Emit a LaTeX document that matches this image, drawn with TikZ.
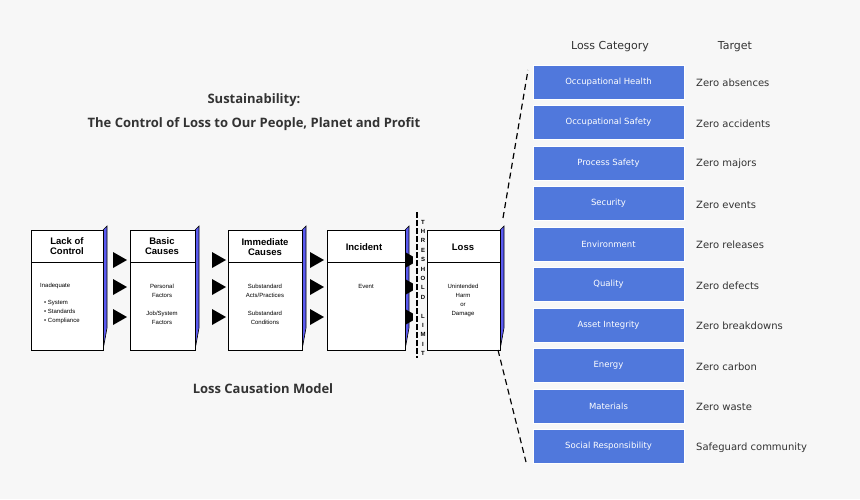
\documentclass[tikz,border=0pt]{standalone}
\usepackage{fontspec}
\setmainfont{DejaVu Sans}
\newfontfamily\arialfont{Liberation Sans}
\newfontfamily\titlefont{Open Sans}
\usetikzlibrary{calc}
\definecolor{catblue}{HTML}{5078DC}
\definecolor{sideblue}{HTML}{5A5AF0}
\definecolor{bggrey}{HTML}{F7F7F7}
\definecolor{txtgrey}{HTML}{333333}
\tikzset{
  cat/.style={fill=catblue, draw=white, line width=0.8pt, minimum width=151pt, minimum height=34pt,
    text=white, font=\fontsize{8.5}{10}\selectfont, inner sep=0pt},
  target/.style={anchor=west, text=txtgrey, font=\fontsize{10}{12}\selectfont, inner sep=0pt},
  head/.style={font=\arialfont\bfseries\fontsize{9.5}{10.5}\selectfont, align=center, inner sep=0pt},
  body/.style={font=\arialfont\fontsize{6}{9}\selectfont, align=center, inner sep=0pt},
  push/.style={fill=black},
}
\newcommand\causebox[3]{% name, left, right
  \fill[sideblue] (#3,230) -- (#3+4,226) -- (#3+4,328) -- (#3,350) -- cycle;
  \draw[black, line width=0.6pt] (#3,230) -- (#3+4,226) -- (#3+4,328) -- (#3,350);
  \draw[fill=white, line width=0.6pt] (#2,230) rectangle (#3,350);
  \draw[line width=0.6pt] (#2,262) -- (#3,262);
  \coordinate (#1) at ({(#2+#3)/2},230);
}
\begin{document}
\begin{tikzpicture}[x=1pt, y=-1pt]
  \fill[bggrey] (0,0) rectangle (860,499);
  \useasboundingbox (0,0) rectangle (860,499);

  % titles
  \node[font=\titlefont\bfseries\fontsize{13}{15}\selectfont, text=txtgrey] (title1) at (254,100) {Sustainability:};
  \node[font=\titlefont\bfseries\fontsize{13}{15}\selectfont, text=txtgrey] (title2) at (254,124) {The Control of Loss to Our People, Planet and Profit};
  \node[font=\titlefont\bfseries\fontsize{13}{15}\selectfont, text=txtgrey] (model) at (263,389) {Loss Causation Model};

  % causation boxes
  \causebox{lack}{31}{103}
  \causebox{basic}{130}{195}
  \causebox{immed}{228}{302}
  \causebox{incid}{327}{405}
  \causebox{loss}{427}{500}

  \node[head] (lackh) at (67,246) {Lack of\\Control};
  \node[head] (basich) at (162,246) {Basic\\Causes};
  \node[head] (immedh) at (265,247) {Immediate\\Causes};
  \node[head] (incidh) at (364,247) {Incident};
  \node[head] (lossh) at (463,247) {Loss};

  \node[body, anchor=west] (lackb) at (40,286) {Inadequate};
  \node[body, anchor=north west, align=left] (lackl) at (44,300) {\textbullet\ System\\\textbullet\ Standards\\\textbullet\ Compliance};
  \node[body] (basicb) at (162,291) {Personal\\Factors};
  \node[body] (basicc) at (162,318) {Job/System\\Factors};
  \node[body] (immedb) at (265,291) {Substandard\\Acts/Practices};
  \node[body] (immedc) at (265,318) {Substandard\\Conditions};
  \node[body] (incidb) at (366,286) {Event};
  \node[body] (lossb) at (463,300) {Unintended\\Harm\\or\\Damage};

  % arrow heads between boxes
  \foreach \x in {113,212,310,405}
    \foreach \y in {260,287,317}
      \fill[push] (\x,\y-8) -- (\x+14,\y) -- (\x,\y+8) -- cycle;

  % threshold limit
  \fill[bggrey] (413,212) rectangle (427,358);
  \draw[line width=1.3pt, dash pattern=on 6pt off 2pt] (417,212) -- (417,358);
  \foreach \ch [count=\i from 0] in {T,H,R,E,S,H,O,L,D,{},L,I,M,I,T}
    \node[font=\arialfont\bfseries\fontsize{6}{6}\selectfont, inner sep=0pt] (th\i) at (423,222+\i*9.4) {\ch};

  % fan out to loss categories
  \coordinate (fanTop) at (528,70);
  \coordinate (fanBot) at (526,462);
  \coordinate (lossTop) at (503,218);
  \coordinate (lossBot) at (498,350);
  \draw[line width=1.2pt, dash pattern=on 6pt off 4pt] (lossTop) -- (fanTop);
  \draw[line width=1.2pt, dash pattern=on 6pt off 4pt] (lossBot) -- (fanBot);

  \node[font=\fontsize{11}{13}\selectfont, text=txtgrey] (cathead) at (610,47) {Loss Category};
  \node[font=\fontsize{11}{13}\selectfont, text=txtgrey] (tgthead) at (735,47) {Target};

  \foreach \cat/\tgt [count=\i from 0] in {
    Occupational Health/Zero absences,
    Occupational Safety/Zero accidents,
    Process Safety/Zero majors,
    Security/Zero events,
    Environment/Zero releases,
    Quality/Zero defects,
    Asset Integrity/Zero breakdowns,
    Energy/Zero carbon,
    Materials/Zero waste,
    Social Responsibility/Safeguard community}
  {
    \node[cat] (cat\i) at (608.5,82+\i*40.5) {\cat};
    \node[target] (tgt\i) at (696,83+\i*40.5) {\tgt};
  }
\end{tikzpicture}
\end{document}
